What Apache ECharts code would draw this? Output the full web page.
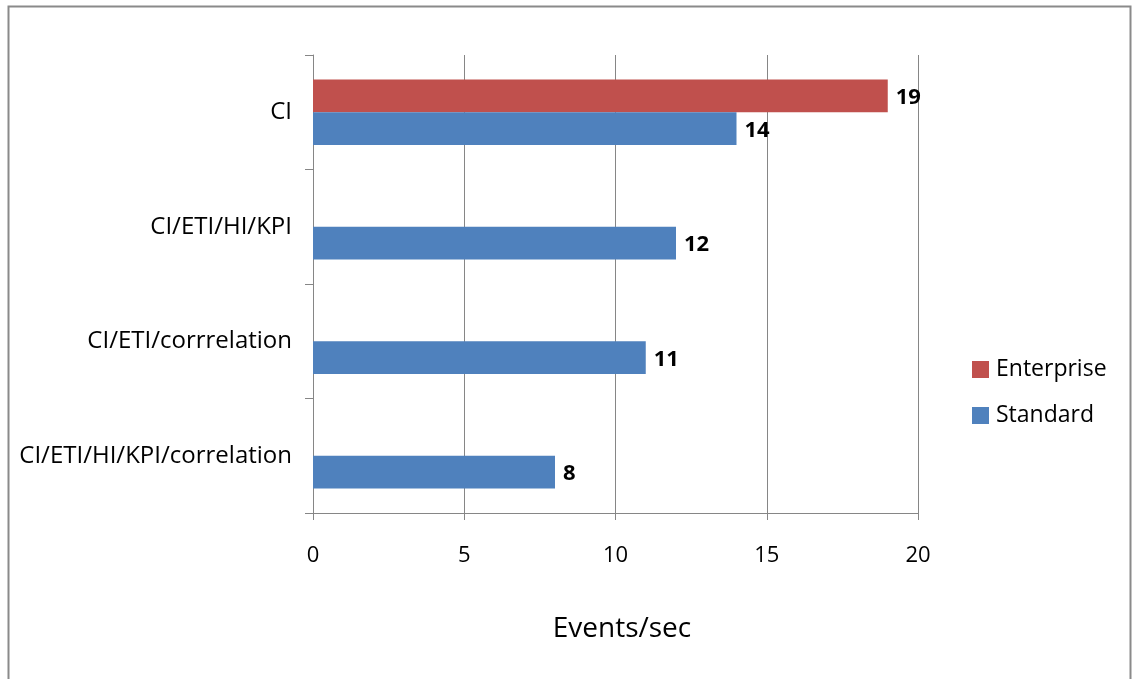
<!DOCTYPE html>
<html>
<head>
<meta charset="utf-8">
<script src="https://cdn.jsdelivr.net/npm/echarts@6/dist/echarts.min.js"></script>
<style>
  html, body { margin: 0; padding: 0; background: #fff; }
  #chart { width: 1132px; height: 679px; }
</style>
</head>
<body>
<div id="chart"></div>
<script>
// Categories listed bottom to top along the vertical axis
const categories = ['CI/ETI/HI/KPI/correlation', 'CI/ETI/corrrelation', 'CI/ETI/HI/KPI', 'CI'];
const enterpriseValues = [null, null, null, 19];
const standardValues = [8, 11, 12, 14];
const xTicks = [0, 5, 10, 15, 20];

const FONT = '"Open Sans", Lato, sans-serif';
const AXIS_GRAY = '#868686';

const chart = echarts.init(document.getElementById('chart'), null, { renderer: 'canvas' });

const labelStyle = {
  show: true,
  position: 'right',
  distance: 8,
  offset: [0, 2],
  color: '#000',
  fontFamily: FONT,
  fontWeight: 'bold',
  fontSize: 22
};

chart.setOption({
  backgroundColor: '#fff',
  animation: false,
  graphic: [{
    type: 'rect',
    shape: { x: 8.5, y: 6.5, width: 1122, height: 700 },
    style: { fill: 'none', stroke: '#8a8a8a', lineWidth: 2 },
    silent: true
  }],
  grid: { left: 313, right: 214, top: 55, bottom: 166, containLabel: false },
  legend: {
    orient: 'vertical',
    left: 967,
    top: 353,
    itemWidth: 17,
    itemHeight: 17,
    itemGap: 23,
    icon: 'rect',
    data: ['Enterprise', 'Standard'],
    textStyle: { fontFamily: FONT, fontSize: 23, color: '#000', padding: [0, 0, 0, 2] }
  },
  xAxis: {
    type: 'value',
    min: xTicks[0],
    max: xTicks[xTicks.length - 1],
    interval: 5,
    name: 'Events/sec',
    nameLocation: 'middle',
    nameGap: 102,
    nameTextStyle: { fontFamily: FONT, fontSize: 28, color: '#000', padding: [0, 0, 0, 13] },
    axisLine: { show: true, lineStyle: { color: AXIS_GRAY, width: 1 } },
    axisTick: { show: true, length: 7, lineStyle: { color: AXIS_GRAY } },
    axisLabel: { fontFamily: FONT, fontSize: 22, color: '#000', margin: 32 },
    splitLine: { show: true, lineStyle: { color: AXIS_GRAY, width: 1 } }
  },
  yAxis: {
    type: 'category',
    data: categories,
    axisLine: { show: true, lineStyle: { color: AXIS_GRAY, width: 1 } },
    axisTick: { show: true, length: 8, lineStyle: { color: AXIS_GRAY } },
    axisLabel: { fontFamily: FONT, fontSize: 24, color: '#000', margin: 21, padding: [4, 0, 0, 0] },
    splitLine: { show: false }
  },
  series: [
    {
      name: 'Enterprise',
      type: 'bar',
      data: enterpriseValues,
      itemStyle: { color: '#C0504D' },
      barGap: '0%',
      barCategoryGap: '43%',
      label: labelStyle
    },
    {
      name: 'Standard',
      type: 'bar',
      data: standardValues,
      itemStyle: { color: '#4F81BD' },
      barGap: '0%',
      barCategoryGap: '43%',
      label: labelStyle
    }
  ]
});
</script>
</body>
</html>
